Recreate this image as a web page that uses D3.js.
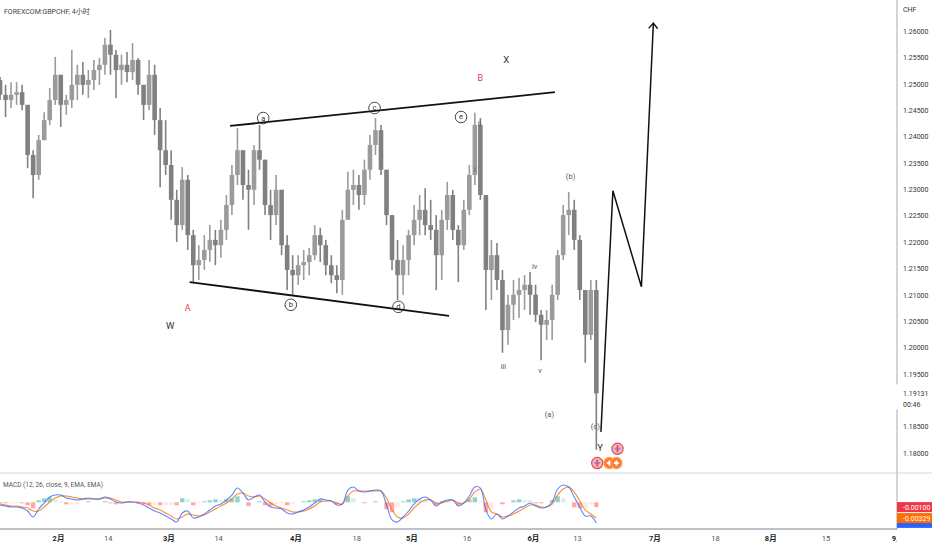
<!DOCTYPE html>
<html>
<head>
<meta charset="utf-8">
<script src="https://cdn.jsdelivr.net/npm/d3@7"></script>
<style>
  body { margin: 0; background: #fff; }
  svg { display: block; font-family: Roboto, "Noto Sans CJK SC", sans-serif; }
</style>
</head>
<body>
<svg id="chart" width="932" height="550"></svg>
<script>
// FOREXCOM:GBPCHF, one bar per trading day, starting Mon 2022-01-17
const firstDay = '2022-01-17';
const lastDay = '2022-09-09';

const opens = [
  1.2507, 1.2479, 1.2469, 1.2479, 1.2484, 1.2460, 1.2365, 1.2327, 1.2393, 1.2431,
  1.2469, 1.2517, 1.2460, 1.2469, 1.2498, 1.2517, 1.2498, 1.2507, 1.2526, 1.2536,
  1.2574, 1.2555, 1.2526, 1.2536, 1.2522, 1.2545, 1.2498, 1.2460, 1.2517, 1.2431,
  1.2374, 1.2346, 1.2280, 1.2232, 1.2318, 1.2213, 1.2156, 1.2166, 1.2185, 1.2204,
  1.2194, 1.2223, 1.2270, 1.2327, 1.2374, 1.2308, 1.2299, 1.2374, 1.2356, 1.2270,
  1.2251, 1.2299, 1.2194, 1.2147, 1.2137, 1.2156, 1.2162, 1.2175, 1.2213, 1.2194,
  1.2156, 1.2137, 1.2128, 1.2242, 1.2299, 1.2308, 1.2289, 1.2337, 1.2384, 1.2412,
  1.2337, 1.2251, 1.2166, 1.2137, 1.2166, 1.2213, 1.2242, 1.2261, 1.2232, 1.2223,
  1.2175, 1.2242, 1.2289, 1.2223, 1.2194, 1.2261, 1.2327, 1.2422, 1.2289, 1.2147,
  1.2175, 1.2128, 1.2033, 1.2081, 1.2100, 1.2109, 1.2119, 1.2100, 1.2062, 1.2043,
  1.2052, 1.2100, 1.2175, 1.2251, 1.2261, 1.2204, 1.2109, 1.2024, 1.2109
];
const highs = [
  1.2513, 1.2498, 1.2503, 1.2503, 1.2498, 1.2460, 1.2374, 1.2403, 1.2446, 1.2492,
  1.2551, 1.2517, 1.2479, 1.2564, 1.2536, 1.2541, 1.2526, 1.2545, 1.2549, 1.2587,
  1.2602, 1.2564, 1.2555, 1.2560, 1.2577, 1.2549, 1.2498, 1.2545, 1.2536, 1.2454,
  1.2431, 1.2374, 1.2299, 1.2342, 1.2327, 1.2223, 1.2194, 1.2213, 1.2232, 1.2223,
  1.2242, 1.2289, 1.2346, 1.2416, 1.2374, 1.2337, 1.2384, 1.2422, 1.2356, 1.2299,
  1.2327, 1.2299, 1.2213, 1.2175, 1.2175, 1.2185, 1.2189, 1.2232, 1.2227, 1.2204,
  1.2175, 1.2156, 1.2261, 1.2333, 1.2337, 1.2327, 1.2356, 1.2403, 1.2435, 1.2422,
  1.2337, 1.2251, 1.2204, 1.2194, 1.2223, 1.2270, 1.2289, 1.2302, 1.2280, 1.2251,
  1.2261, 1.2314, 1.2299, 1.2232, 1.2280, 1.2346, 1.2445, 1.2435, 1.2289, 1.2204,
  1.2198, 1.2147, 1.2100, 1.2128, 1.2132, 1.2137, 1.2143, 1.2119, 1.2071, 1.2071,
  1.2119, 1.2185, 1.2270, 1.2295, 1.2280, 1.2213, 1.2109, 1.2128, 1.2128
];
const lows = [
  1.2469, 1.2437, 1.2454, 1.2460, 1.2450, 1.2340, 1.2283, 1.2318, 1.2393, 1.2422,
  1.2460, 1.2418, 1.2441, 1.2454, 1.2469, 1.2479, 1.2473, 1.2488, 1.2498, 1.2517,
  1.2517, 1.2473, 1.2498, 1.2503, 1.2507, 1.2479, 1.2431, 1.2450, 1.2403, 1.2304,
  1.2327, 1.2242, 1.2200, 1.2223, 1.2185, 1.2122, 1.2128, 1.2147, 1.2162, 1.2156,
  1.2170, 1.2204, 1.2251, 1.2308, 1.2280, 1.2223, 1.2270, 1.2337, 1.2251, 1.2204,
  1.2232, 1.2175, 1.2109, 1.2100, 1.2119, 1.2128, 1.2137, 1.2166, 1.2162, 1.2137,
  1.2122, 1.2103, 1.2100, 1.2251, 1.2270, 1.2261, 1.2270, 1.2318, 1.2365, 1.2327,
  1.2232, 1.2147, 1.2090, 1.2100, 1.2137, 1.2194, 1.2213, 1.2213, 1.2204, 1.2109,
  1.2128, 1.2223, 1.2204, 1.2124, 1.2185, 1.2251, 1.2308, 1.2280, 1.2071, 1.2090,
  1.2109, 1.1990, 1.2005, 1.2052, 1.2056, 1.2071, 1.2062, 1.2048, 1.1976, 1.2014,
  1.2014, 1.2090, 1.2166, 1.2213, 1.2185, 1.2090, 1.1971, 1.2014, 1.1806
];
const closes = [
  1.2479, 1.2469, 1.2479, 1.2484, 1.2460, 1.2365, 1.2327, 1.2393, 1.2431, 1.2469,
  1.2517, 1.2460, 1.2469, 1.2498, 1.2517, 1.2498, 1.2507, 1.2526, 1.2536, 1.2574,
  1.2555, 1.2526, 1.2536, 1.2522, 1.2545, 1.2498, 1.2460, 1.2517, 1.2431, 1.2374,
  1.2346, 1.2280, 1.2232, 1.2318, 1.2213, 1.2156, 1.2166, 1.2185, 1.2204, 1.2194,
  1.2223, 1.2270, 1.2327, 1.2374, 1.2308, 1.2299, 1.2374, 1.2356, 1.2270, 1.2251,
  1.2299, 1.2194, 1.2147, 1.2137, 1.2156, 1.2162, 1.2175, 1.2213, 1.2194, 1.2156,
  1.2137, 1.2128, 1.2242, 1.2299, 1.2308, 1.2289, 1.2337, 1.2384, 1.2412, 1.2337,
  1.2251, 1.2166, 1.2137, 1.2166, 1.2213, 1.2242, 1.2261, 1.2232, 1.2223, 1.2175,
  1.2242, 1.2289, 1.2223, 1.2194, 1.2261, 1.2327, 1.2422, 1.2289, 1.2147, 1.2175,
  1.2128, 1.2033, 1.2081, 1.2100, 1.2109, 1.2119, 1.2100, 1.2062, 1.2043, 1.2052,
  1.2100, 1.2175, 1.2251, 1.2261, 1.2204, 1.2109, 1.2024, 1.2109, 1.19131
];

// MACD (12, 26, close, 9)
const macdLine = [
  -0.00056, -0.00077, -0.00098, -0.00098, -0.00119, -0.00181, -0.00306, -0.00139, -0.00015, 0.00110,
  0.00152, 0.00152, 0.00089, 0.00069, 0.00048, 0.00069, 0.00089, 0.00069, 0.00069, 0.00110,
  0.00069, 0.00006, -0.00015, 0.00006, 0.00006, -0.00015, -0.00056, -0.00119, -0.00181, -0.00223,
  -0.00285, -0.00347, -0.00410, -0.00223, -0.00181, -0.00327, -0.00306, -0.00243, -0.00160, -0.00077,
  -0.00035, 0.00048, 0.00152, 0.00297, 0.00193, 0.00048, 0.00110, 0.00152, 0.00006, -0.00098,
  -0.00119, -0.00139, -0.00223, -0.00243, -0.00202, -0.00160, -0.00098, -0.00015, 0.00069, 0.00048,
  0.00027, -0.00056, -0.00035, 0.00256, 0.00318, 0.00235, 0.00214, 0.00235, 0.00256, 0.00235,
  -0.00056, -0.00368, -0.00410, -0.00306, -0.00181, -0.00035, 0.00069, 0.00110, 0.00048, -0.00077,
  0.00006, 0.00048, 0.00048, -0.00077, -0.00015, 0.00131, 0.00318, 0.00297, -0.00160, -0.00347,
  -0.00243, -0.00347, -0.00285, -0.00202, -0.00119, -0.00077, -0.00015, -0.00077, -0.00119, -0.00098,
  0.00006, 0.00277, 0.00360, 0.00318, 0.00110, -0.00098, -0.00285, -0.00285, -0.00429
];
const signalLine = [
  -0.00035, -0.00056, -0.00077, -0.00077, -0.00098, -0.00119, -0.00181, -0.00181, -0.00098, 0.00006,
  0.00089, 0.00131, 0.00131, 0.00110, 0.00089, 0.00069, 0.00069, 0.00069, 0.00069, 0.00089,
  0.00089, 0.00048, 0.00006, 0.00006, 0.00006, 0.00006, -0.00015, -0.00056, -0.00119, -0.00160,
  -0.00223, -0.00285, -0.00347, -0.00306, -0.00243, -0.00264, -0.00285, -0.00264, -0.00202, -0.00139,
  -0.00077, -0.00015, 0.00069, 0.00173, 0.00193, 0.00131, 0.00110, 0.00131, 0.00069, -0.00015,
  -0.00077, -0.00119, -0.00160, -0.00202, -0.00202, -0.00181, -0.00139, -0.00077, 0.00006, 0.00027,
  0.00027, -0.00015, -0.00035, 0.00131, 0.00235, 0.00235, 0.00235, 0.00235, 0.00235, 0.00235,
  0.00089, -0.00160, -0.00306, -0.00327, -0.00243, -0.00119, -0.00015, 0.00048, 0.00048, -0.00015,
  -0.00015, 0.00027, 0.00048, -0.00015, -0.00015, 0.00069, 0.00214, 0.00277, 0.00048, -0.00202,
  -0.00243, -0.00306, -0.00285, -0.00243, -0.00181, -0.00119, -0.00056, -0.00056, -0.00098, -0.00098,
  -0.00035, 0.00152, 0.00277, 0.00318, 0.00214, 0.00027, -0.00160, -0.00243, -0.00329
];

// axis ticks
const priceTicks = [1.26, 1.255, 1.25, 1.245, 1.24, 1.235, 1.23, 1.225, 1.22, 1.215,
  1.21, 1.205, 1.2, 1.195, 1.185, 1.18];
const timeTickDays = ['2022-02-01', '2022-02-14', '2022-03-01', '2022-03-14', '2022-04-01',
  '2022-04-18', '2022-05-02', '2022-05-16', '2022-06-01', '2022-06-13', '2022-07-01',
  '2022-07-18', '2022-08-01', '2022-08-15', '2022-09-01'];
const timeTickLabels = ['2月', '14', '3月', '14', '4月', '18', '5月', '16', '6月', '13',
  '7月', '18', '8月', '15', '9月'];

// wave count annotations (time = day + hour of the 4h bar)
const upperLine = [['2022-03-16T04', 1.2420], ['2022-06-07T00', 1.2484]];
const lowerLine = [['2022-03-04T20', 1.2124], ['2022-05-10T20', 1.2060]];
const circledText = ['a', 'b', 'c', 'd', 'e'];
const circledTimes = ['2022-03-24T04', '2022-03-31T04', '2022-04-21T08', '2022-04-27T16', '2022-05-13T00'];
const circledPrices = [1.2435, 1.2081, 1.2454, 1.2077, 1.2437];
const waveText = ['A', 'W', 'B', 'X', 'i', 'ii', 'iii', 'iv', 'v', '(a)', '(b)', '(c)', 'Y'];
const waveTimes = ['2022-03-04T12', '2022-03-01T08', '2022-05-18T12', '2022-05-25T04',
  '2022-05-17T12', '2022-05-18T08', '2022-05-24T16', '2022-06-01T08', '2022-06-02T08',
  '2022-06-06T00', '2022-06-09T20', '2022-06-16T08', '2022-06-17T04'];
const wavePrices = [1.2075, 1.2041, 1.2511, 1.2545, 1.2337, 1.2424, 1.1965, 1.2154, 1.1957,
  1.1874, 1.2325, 1.1850, 1.1810];
const projTimes = ['2022-06-17T08', '2022-06-21T12', '2022-06-28T16', '2022-06-30T20'];
const projPrices = [1.1840, 1.2297, 1.2115, 1.2615];

const W = 932, H = 550;
const axisX = 897, paneSplit = 473, timeAxisY = 529;
const upColor = '#9b9b9b', downColor = '#808080';

const svg = d3.select('#chart');

// trading days (weekends skipped, like the TradingView time scale)
const fmt = d3.timeFormat('%Y-%m-%d');
const days = d3.timeDay.range(new Date(firstDay + 'T00:00'), new Date(lastDay + 'T00:00'))
  .filter(d => d.getDay() !== 0 && d.getDay() !== 6);
const dayIndex = new Map(days.map((d, i) => [fmt(d), i]));

const x = d3.scaleLinear().domain([11, 105]).range([58, 577]);
const y = d3.scaleLinear().domain([1.18, 1.26]).range([453, 31]);
const yM = d3.scaleLinear().domain([-0.0045, 0.0035]).range([523.9, 485.5]);

function xAt(s) {
  const [day, hh] = s.split('T');
  return x(dayIndex.get(day) + (hh ? +hh / 24 : 0));
}

const defs = svg.append('defs');
defs.append('clipPath').attr('id', 'clipPrice')
  .append('rect').attr('x', 0).attr('y', 0).attr('width', axisX).attr('height', paneSplit);
defs.append('clipPath').attr('id', 'clipMacd')
  .append('rect').attr('x', 0).attr('y', paneSplit).attr('width', axisX).attr('height', timeAxisY - paneSplit);
defs.append('clipPath').attr('id', 'clipTime')
  .append('rect').attr('x', 0).attr('y', timeAxisY).attr('width', axisX).attr('height', H - timeAxisY);
defs.append('marker').attr('id', 'arrow')
  .attr('viewBox', '-8 -8 16 16').attr('refX', 0).attr('refY', 0)
  .attr('markerWidth', 16).attr('markerHeight', 16)
  .attr('markerUnits', 'userSpaceOnUse').attr('orient', 'auto')
  .append('path').attr('d', 'M-5.5,-4.5 L0,0 L-5.5,4.5')
  .attr('fill', 'none').attr('stroke', '#111').attr('stroke-width', 1.4);

const candles = opens.map((o, i) => ({ i, o, h: highs[i], l: lows[i], c: closes[i] }));

// price pane
const gPrice = svg.append('g').attr('clip-path', 'url(#clipPrice)');

gPrice.append('g')
  .selectAll('line')
  .data(candles)
  .enter().append('line')
  .attr('x1', d => x(d.i + 0.5))
  .attr('x2', d => x(d.i + 0.5))
  .attr('y1', d => y(d.h))
  .attr('y2', d => y(d.l))
  .attr('stroke', d => d.c >= d.o ? upColor : downColor)
  .attr('stroke-width', 1.6);

gPrice.append('g')
  .selectAll('rect')
  .data(candles)
  .enter().append('rect')
  .attr('x', d => x(d.i + 0.5) - 2.3)
  .attr('width', 4.6)
  .attr('y', d => y(Math.max(d.o, d.c)))
  .attr('height', d => Math.max(1, Math.abs(y(d.o) - y(d.c))))
  .attr('fill', d => d.c >= d.o ? upColor : downColor);

// triangle trendlines
[upperLine, lowerLine].forEach(seg => {
  gPrice.append('line')
    .attr('x1', xAt(seg[0][0])).attr('y1', y(seg[0][1]))
    .attr('x2', xAt(seg[1][0])).attr('y2', y(seg[1][1]))
    .attr('stroke', '#111')
    .attr('stroke-width', 1.8);
});

// circled sub-waves
const circ = gPrice.append('g')
  .selectAll('g')
  .data(circledText)
  .enter().append('g')
  .attr('transform', (d, i) => `translate(${xAt(circledTimes[i])},${y(circledPrices[i])})`);
circ.append('circle').attr('r', 5.8).attr('fill', 'none').attr('stroke', '#333').attr('stroke-width', 0.9);
circ.append('text')
  .attr('text-anchor', 'middle').attr('dy', '0.33em')
  .attr('font-size', 7.5).attr('fill', '#333')
  .text(d => d);

// wave labels
gPrice.append('g')
  .selectAll('text')
  .data(waveText)
  .enter().append('text')
  .attr('x', (d, i) => xAt(waveTimes[i]))
  .attr('y', (d, i) => y(wavePrices[i]))
  .attr('dy', '0.35em')
  .attr('text-anchor', 'middle')
  .attr('font-size', d => ['W', 'X', 'Y'].includes(d) ? 9.5 : (d === 'A' || d === 'B' ? 9 : 7.5))
  .attr('fill', d => (d === 'A' || d === 'B') ? '#f23645' : (['W', 'X', 'Y'].includes(d) ? '#333' : '#555'))
  .text(d => d);

// projected path
gPrice.append('path')
  .datum(projTimes.map((t, i) => [xAt(t), y(projPrices[i])]))
  .attr('d', d3.line())
  .attr('fill', 'none')
  .attr('stroke', '#111')
  .attr('stroke-width', 1.5)
  .attr('marker-end', 'url(#arrow)');

// event icons under the last bars
const ukIcons = [['2022-06-16T16', 1.1781], ['2022-06-22T08', 1.1808]];
ukIcons.forEach(([t, p]) => {
  const g = svg.append('g').attr('transform', `translate(${xAt(t)},${y(p)})`);
  g.append('circle').attr('r', 5.6).attr('fill', '#f4b8be').attr('stroke', '#e2474f').attr('stroke-width', 1.2);
  g.append('rect').attr('x', -3).attr('y', -1).attr('width', 6).attr('height', 2).attr('fill', '#8a97d6');
  g.append('rect').attr('x', -1).attr('y', -3.5).attr('width', 2).attr('height', 7).attr('fill', '#d65a66');
});
const chIcon = ['2022-06-21T12', 1.1781];
[-3.5, 3.5].forEach(off => {
  const g = svg.append('g').attr('transform', `translate(${xAt(chIcon[0]) + off},${y(chIcon[1])})`);
  g.append('circle').attr('r', 5.6).attr('fill', '#ff7a29').attr('stroke', '#ffa060').attr('stroke-width', 1.2);
  g.append('rect').attr('x', -2.6).attr('y', -0.9).attr('width', 5.2).attr('height', 1.8).attr('fill', '#fff');
  g.append('rect').attr('x', -0.9).attr('y', -2.6).attr('width', 1.8).attr('height', 5.2).attr('fill', '#fff');
});

// title
svg.append('text')
  .attr('x', 4).attr('y', 12).attr('dy', '0.35em')
  .attr('font-size', 7).attr('fill', '#444')
  .text('FOREXCOM:GBPCHF, 4小时');

// pane separator
svg.append('line')
  .attr('x1', 0).attr('x2', W).attr('y1', paneSplit).attr('y2', paneSplit)
  .attr('stroke', '#e0e3eb').attr('stroke-width', 1.5);

// MACD pane
const gMacd = svg.append('g').attr('clip-path', 'url(#clipMacd)');
const hist = macdLine.map((m, i) => ({ i, v: m - signalLine[i], prev: i ? macdLine[i - 1] - signalLine[i - 1] : 0 }));

gMacd.append('g')
  .selectAll('rect')
  .data(hist)
  .enter().append('rect')
  .attr('x', d => x(d.i + 0.5) - 2.2)
  .attr('width', 4.4)
  .attr('y', d => Math.min(yM(0), yM(d.v)))
  .attr('height', d => Math.abs(yM(d.v) - yM(0)))
  .attr('fill', d => d.v >= 0 ? (d.v >= d.prev ? '#26a69a' : '#b2dfdb') : (d.v >= d.prev ? '#ffcdd2' : '#ff5252'))
  .attr('opacity', 0.5);

const mline = d3.line()
  .x((d, i) => x(i + 0.5))
  .y(d => yM(d))
  .curve(d3.curveCatmullRom);

gMacd.append('path').datum(signalLine).attr('d', mline)
  .attr('fill', 'none').attr('stroke', '#ff6d00').attr('stroke-width', 1.1).attr('opacity', 0.8);
gMacd.append('path').datum(macdLine).attr('d', mline)
  .attr('fill', 'none').attr('stroke', '#2962ff').attr('stroke-width', 1.1).attr('opacity', 0.75);

svg.append('text')
  .attr('x', 3).attr('y', 485).attr('dy', '0.35em')
  .attr('font-size', 6.5).attr('fill', '#555')
  .text('MACD (12, 26, close, 9, EMA, EMA)');

// right price scale
svg.append('line')
  .attr('x1', axisX).attr('x2', axisX).attr('y1', 0).attr('y2', timeAxisY)
  .attr('stroke', '#c3c6ce').attr('stroke-width', 1.5);

svg.append('text')
  .attr('x', 903).attr('y', 10).attr('dy', '0.35em')
  .attr('font-size', 7).attr('fill', '#333')
  .text('CHF');

svg.append('g')
  .attr('transform', `translate(${axisX},0)`)
  .call(d3.axisRight(y).tickValues(priceTicks).tickFormat(d3.format('.5f')).tickSize(0).tickPadding(6))
  .call(g => g.select('.domain').remove())
  .call(g => g.selectAll('text').attr('font-size', 7).attr('fill', '#333').attr('font-family', 'Roboto, sans-serif'));

// last price label
const lastClose = closes[closes.length - 1];
svg.append('rect')
  .attr('x', axisX - 1).attr('y', y(lastClose) - 9).attr('width', W - axisX + 1).attr('height', 25)
  .attr('fill', '#fff');
svg.append('text')
  .attr('x', 903).attr('y', y(lastClose)).attr('dy', '0.35em')
  .attr('font-size', 7).attr('fill', '#333')
  .text(d3.format('.5f')(lastClose));
svg.append('text')
  .attr('x', 903).attr('y', y(lastClose) + 11).attr('dy', '0.35em')
  .attr('font-size', 7).attr('fill', '#333')
  .text('00:46');

// MACD scale labels: blue MACD box sits under the signal box, only its edge shows
const lastM = macdLine[macdLine.length - 1];
const lastS = signalLine[signalLine.length - 1];
svg.append('rect')
  .attr('x', axisX).attr('y', yM(lastM) - 5).attr('width', W - axisX).attr('height', 10)
  .attr('fill', '#2962ff');
const macdLabels = [
  { v: lastS, c: '#ff6d00' },
  { v: lastM - lastS, c: '#f23645' }
];
macdLabels.forEach(d => {
  svg.append('rect')
    .attr('x', axisX).attr('y', yM(d.v) - 5).attr('width', W - axisX).attr('height', 10)
    .attr('fill', d.c);
  svg.append('text')
    .attr('x', 903).attr('y', yM(d.v)).attr('dy', '0.35em')
    .attr('font-size', 7).attr('fill', '#fff')
    .text(d3.format('.5f')(d.v).replace('−', '-'));
});

// time axis
svg.append('line')
  .attr('x1', 0).attr('x2', axisX).attr('y1', timeAxisY).attr('y2', timeAxisY)
  .attr('stroke', '#a9acb4').attr('stroke-width', 1.5);

svg.append('g')
  .attr('clip-path', 'url(#clipTime)')
  .append('g')
  .attr('transform', `translate(0,${timeAxisY})`)
  .call(d3.axisBottom(x)
    .tickValues(timeTickDays.map(d => dayIndex.get(d)))
    .tickFormat((d, i) => timeTickLabels[i])
    .tickSize(0).tickPadding(7))
  .call(g => g.select('.domain').remove())
  .call(g => g.selectAll('text')
    .attr('font-size', 7.5)
    .attr('fill', (d, i) => timeTickLabels[i].includes('月') ? '#222' : '#555')
    .attr('font-weight', (d, i) => timeTickLabels[i].includes('月') ? 'bold' : 'normal')
    .attr('font-family', 'Roboto, "Noto Sans CJK SC", sans-serif'));
</script>
</body>
</html>
